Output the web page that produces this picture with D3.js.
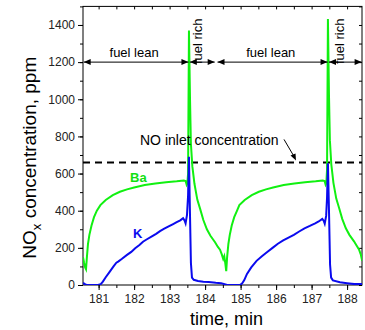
<!DOCTYPE html>
<html>
<head>
<meta charset="utf-8">
<script src="https://cdn.jsdelivr.net/npm/d3@7"></script>
<style>
  body { margin: 0; background: #fff; }
  text { font-family: Arial, "Liberation Sans", sans-serif; }
</style>
</head>
<body>
<div id="chart"></div>
<script>
// data (time in min, NOx in ppm)
var timeBa = [180.56, 180.59, 180.62, 180.645, 180.67, 180.70, 180.74, 180.80, 180.87, 180.95,
  181.05, 181.2, 181.4, 181.6, 181.8, 182.0, 182.3, 182.6, 182.9, 183.2,
  183.4, 183.45, 183.48, 183.5, 183.52, 183.545, 183.575, 183.6, 183.64, 183.7,
  183.78, 183.86, 183.95, 184.05, 184.15, 184.28, 184.36, 184.42, 184.47, 184.51,
  184.54, 184.57, 184.595, 184.62, 184.655, 184.695, 184.75, 184.82, 184.9, 184.965,
  185.115, 185.315, 185.515, 185.715, 185.915, 186.215, 186.515, 186.815, 187.115, 187.315,
  187.365, 187.395, 187.415, 187.435, 187.46, 187.49, 187.515, 187.555, 187.615, 187.695,
  187.775, 187.865, 187.965, 188.065, 188.195, 188.275, 188.335, 188.385, 188.425];
var concBa = [150, 120, 95, 85, 150, 220, 270, 320, 365, 400,
  430, 458, 484, 502, 515, 525, 538, 547, 553, 558,
  563, 560, 540, 548, 600, 1370, 1000, 760, 640, 545,
  460, 410, 350, 300, 265, 230, 205, 190, 165, 140,
  155, 115, 75, 150, 220, 270, 320, 365, 400, 430,
  458, 484, 502, 515, 525, 538, 547, 553, 558, 563,
  560, 540, 548, 620, 1432, 1020, 780, 650, 550, 465,
  415, 355, 305, 270, 235, 210, 192, 165, 130];

var timeK = [180.56, 180.6, 180.65, 180.75, 180.9, 181.0, 181.06, 181.12, 181.2, 181.3,
  181.42, 181.5, 181.55, 181.65, 181.8, 181.92, 182.03, 182.15, 182.25, 182.35,
  182.5, 182.62, 182.73, 182.85, 183.0, 183.1, 183.2, 183.3, 183.38, 183.42,
  183.45, 183.49, 183.52, 183.545, 183.57, 183.6, 183.63, 183.68, 183.8, 183.95,
  184.1, 184.3, 184.45, 184.55, 184.62, 184.8, 184.98, 185.04, 185.1, 185.18,
  185.3, 185.45, 185.6, 185.75, 185.9, 186.05, 186.2, 186.35, 186.5, 186.65,
  186.8, 186.95, 187.1, 187.2, 187.3, 187.34, 187.37, 187.41, 187.435, 187.46,
  187.49, 187.52, 187.55, 187.6, 187.8, 188.0, 188.2, 188.42];
var concK = [12, 6, 2, 0, 0, 1, 5, 18, 42, 68,
  100, 120, 126, 140, 162, 178, 198, 215, 233, 245,
  262, 275, 290, 303, 318, 328, 338, 348, 360, 348,
  332, 378, 480, 690, 420, 120, 40, 28, 22, 18,
  16, 12, 10, 4, 0, 0, 0, 8, 25, 60,
  95, 130, 155, 178, 200, 222, 240, 255, 270, 288,
  305, 318, 332, 342, 356, 346, 330, 372, 470, 655,
  400, 110, 40, 25, 15, 10, 5, 5];

var inletNO = 660;
var arrowLevel = 1200;
// phase boundaries: [start, end]
var leanPhases = [[180.58, 183.53], [184.35, 187.45]];
var richPhases = [[183.57, 184.27], [187.49, 188.41]];
var leanLabelAt = [182.0, 185.85];
var richLabelAt = [183.92, 187.9];

var xTicks = [181, 182, 183, 184, 185, 186, 187, 188];
var yTicks = [0, 200, 400, 600, 800, 1000, 1200, 1400];

var W = 365, H = 330;
var pL = 83, pR = 362, pT = 6.4, pB = 285;

var svg = d3.select("#chart").append("svg")
  .attr("width", W).attr("height", H);

var x = d3.scaleLinear().domain([180.56, 188.42]).range([pL, pR]);
var y = d3.scaleLinear().domain([0, 1500]).range([pB, pT]);

svg.append("defs").append("clipPath").attr("id", "clip")
  .append("rect").attr("x", pL).attr("y", pT)
  .attr("width", pR - pL).attr("height", pB - pT);

var halfTicks = d3.range(181, 188.5, 0.5);
var hundredTicks = d3.range(0, 1501, 100);

// minor ticks
svg.append("g").attr("transform", `translate(0,${pB})`)
  .call(d3.axisBottom(x).tickValues(halfTicks).tickSize(3).tickFormat(""))
  .call(g => g.select(".domain").remove());
svg.append("g").attr("transform", `translate(${pL},0)`)
  .call(d3.axisLeft(y).tickValues(hundredTicks).tickSize(3).tickFormat(""))
  .call(g => g.select(".domain").remove());
svg.append("g").attr("transform", `translate(0,${pT})`)
  .call(d3.axisBottom(x).tickValues(halfTicks).tickSize(3).tickFormat(""))
  .call(g => g.select(".domain").remove());
svg.append("g").attr("transform", `translate(${pR},0)`)
  .call(d3.axisLeft(y).tickValues(hundredTicks).tickSize(3).tickFormat(""))
  .call(g => g.select(".domain").remove());

// major ticks and labels
var xAxis = svg.append("g").attr("transform", `translate(0,${pB})`)
  .call(d3.axisBottom(x).tickValues(xTicks).tickSize(5).tickPadding(4).tickFormat(d3.format("d")));
var yAxis = svg.append("g").attr("transform", `translate(${pL},0)`)
  .call(d3.axisLeft(y).tickValues(yTicks).tickSize(5).tickPadding(3).tickFormat(d3.format("d")));
[xAxis, yAxis].forEach(function (g) {
  g.select(".domain").remove();
  g.selectAll("text").style("font-size", "12px").attr("fill", "#222")
    .style("font-family", "Arial, 'Liberation Sans', sans-serif");
});

svg.append("rect").attr("x", pL).attr("y", pT)
  .attr("width", pR - pL).attr("height", pB - pT)
  .attr("fill", "none").attr("stroke", "#000").attr("stroke-width", 1);

var plot = svg.append("g").attr("clip-path", "url(#clip)");

// inlet concentration
plot.append("line")
  .attr("x1", pL).attr("x2", pR)
  .attr("y1", y(inletNO)).attr("y2", y(inletNO))
  .attr("stroke", "#000").attr("stroke-width", 2)
  .attr("stroke-dasharray", "7,5");

var line = d3.line()
  .x(function (d) { return x(d[0]); })
  .y(function (d) { return y(d[1]); });

plot.append("path")
  .datum(d3.zip(timeBa, concBa))
  .attr("d", line).attr("fill", "none")
  .attr("stroke", "#11f011").attr("stroke-width", 2);
plot.append("path")
  .datum(d3.zip(timeK, concK))
  .attr("d", line).attr("fill", "none")
  .attr("stroke", "#0a0aee").attr("stroke-width", 2);

// phase arrows
function headPath(tip, dir) {
  var yy = y(arrowLevel);
  return `M${tip},${yy} L${tip - dir * 7},${yy - 3} L${tip - dir * 7},${yy + 3} Z`;
}
leanPhases.concat(richPhases).forEach(function (p) {
  var a = x(p[0]), b = x(p[1]);
  svg.append("line").attr("x1", a).attr("x2", b)
    .attr("y1", y(arrowLevel)).attr("y2", y(arrowLevel))
    .attr("stroke", "#000").attr("stroke-width", 1);
  svg.append("path").attr("d", headPath(a, -1)).attr("fill", "#000");
  svg.append("path").attr("d", headPath(b, 1)).attr("fill", "#000");
});
leanLabelAt.forEach(function (t) {
  svg.append("text").attr("x", x(t)).attr("y", y(arrowLevel) - 5)
    .attr("text-anchor", "middle").style("font-size", "13px").text("fuel lean");
});
richLabelAt.forEach(function (t) {
  svg.append("text")
    .attr("transform", `translate(${x(t)},${y(arrowLevel) + 2}) rotate(-90)`)
    .style("font-size", "13px").text("fuel rich");
});

// inlet label with leader arrow
svg.append("text").attr("x", 140).attr("y", y(inletNO) - 17)
  .style("font-size", "14px").text("NO inlet concentration");
svg.append("line").attr("x1", 284).attr("y1", y(inletNO) - 23)
  .attr("x2", 294).attr("y2", y(inletNO) - 6)
  .attr("stroke", "#000").attr("stroke-width", 1);
svg.append("path")
  .attr("d", `M296,${y(inletNO) - 2} L290.5,${y(inletNO) - 7} L295.5,${y(inletNO) - 9} Z`)
  .attr("fill", "#000");

// series labels
svg.append("text").attr("x", 130).attr("y", 182)
  .style("font-size", "13px").style("font-weight", "bold").attr("fill", "#11e011").text("Ba");
svg.append("text").attr("x", 133).attr("y", 238)
  .style("font-size", "13px").style("font-weight", "bold").attr("fill", "#0a0aee").text("K");

// axis titles
svg.append("text").attr("x", (pL + pR) / 2 + 4).attr("y", 325)
  .attr("text-anchor", "middle").style("font-size", "18px").text("time, min");
var yt = svg.append("text")
  .attr("transform", `translate(36,${(pT + pB) / 2 + 12}) rotate(-90)`)
  .attr("text-anchor", "middle").style("font-size", "19px");
yt.append("tspan").text("NO");
yt.append("tspan").attr("dy", 5).style("font-size", "13px").text("x");
yt.append("tspan").attr("dy", -5).text(" concentration, ppm");
</script>
</body>
</html>
